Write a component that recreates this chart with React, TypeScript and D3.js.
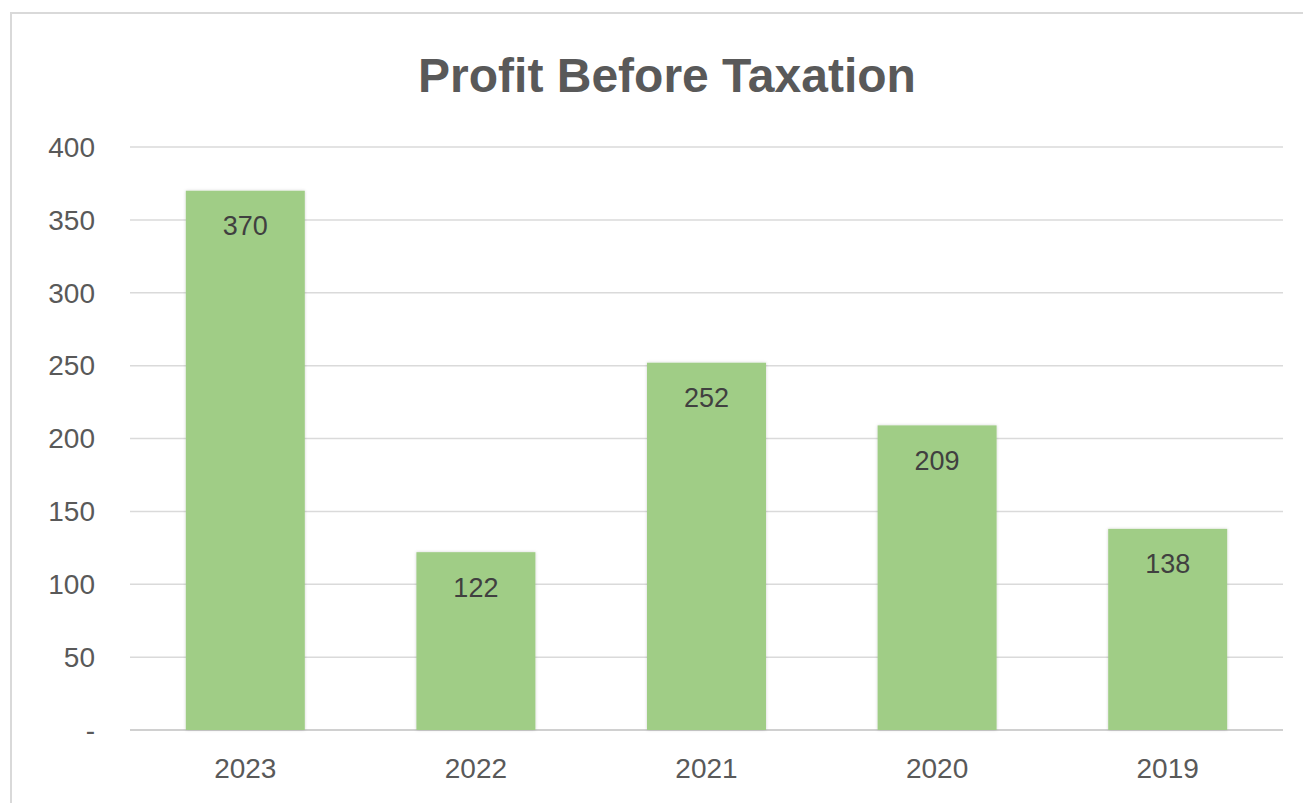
import React from "react";
import * as d3 from "d3";

const categories = ["2023", "2022", "2021", "2020", "2019"];
const values = [370, 122, 252, 209, 138];
const yTicks = [0, 50, 100, 150, 200, 250, 300, 350, 400];
const title = "Profit Before Taxation";

const W = 1303;
const H = 803;
const left = 130;
const right = 1283;
const top = 147;
const bottom = 730;
const FONT = "'Liberation Sans', 'Open Sans', sans-serif";

export default function App() {
  const x = d3
    .scaleBand<string>()
    .domain(categories)
    .range([left, right])
    .paddingInner(0.484)
    .paddingOuter(0.242);
  const y = d3.scaleLinear().domain([0, 400]).range([bottom, top]);

  return (
    <svg
      width={W}
      height={H}
      style={{ position: "absolute", left: 0, top: 0, background: "#fff" }}
    >
      <defs>
        <filter id="sh" x="-10%" y="-10%" width="120%" height="120%">
          <feDropShadow dx="0" dy="0" stdDeviation="1.5" floodColor="#000" floodOpacity="0.18" />
        </filter>
      </defs>
      <rect x={0} y={0} width={W} height={H} fill="#fff" />
      <rect x={11} y={13} width={1320} height={820} fill="#fff" stroke="#d9d9d9" strokeWidth={2} />
      <text
        x={667}
        y={92}
        textAnchor="middle"
        fontFamily={FONT}
        fontWeight="bold"
        fontSize={48}
        fill="#595959"
      >
        {title}
      </text>
      {yTicks.map((t) => (
        <g key={t}>
          <line
            x1={left}
            x2={right}
            y1={y(t)}
            y2={y(t)}
            stroke={t === 0 ? "#d0d0d0" : "#dadada"}
            strokeWidth={t === 0 ? 2 : 1.5}
          />
          <text
            x={95}
            y={y(t)}
            dy="0.35em"
            textAnchor="end"
            fontFamily={FONT}
            fontSize={28}
            fill="#595959"
          >
            {t === 0 ? "-" : t}
          </text>
        </g>
      ))}
      {categories.map((c, i) => (
        <g key={c}>
          <rect
            x={x(c)}
            y={y(values[i])}
            width={x.bandwidth()}
            height={bottom - y(values[i])}
            fill="#a0cd86"
            filter="url(#sh)"
          />
          <text
            x={(x(c) as number) + x.bandwidth() / 2}
            y={y(values[i]) + 35}
            dy="0.35em"
            textAnchor="middle"
            fontFamily={FONT}
            fontSize={27}
            fill="#404040"
          >
            {values[i]}
          </text>
          <text
            x={(x(c) as number) + x.bandwidth() / 2}
            y={768}
            dy="0.35em"
            textAnchor="middle"
            fontFamily={FONT}
            fontSize={28}
            fill="#595959"
          >
            {c}
          </text>
        </g>
      ))}
    </svg>
  );
}
